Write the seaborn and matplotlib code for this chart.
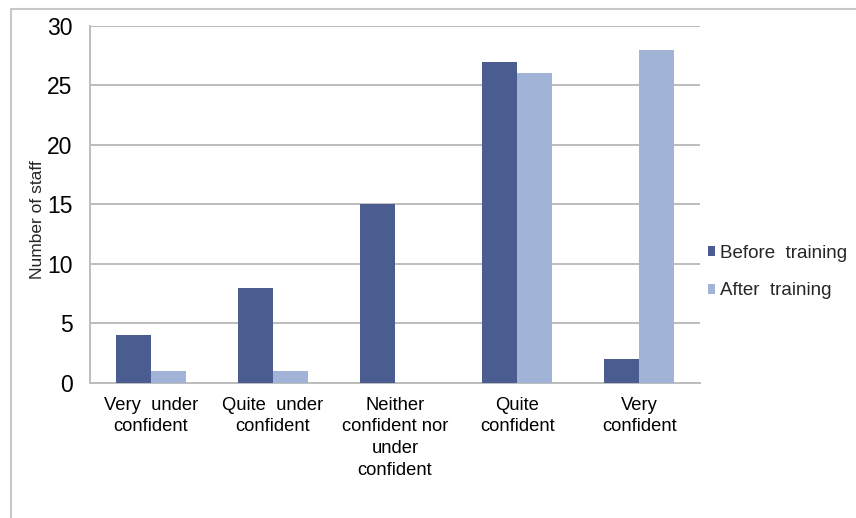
import pandas
import matplotlib.pyplot as pyplot
import seaborn
from matplotlib.patches import Rectangle

# data
categories = [
    "Very  under\nconfident",
    "Quite  under\nconfident",
    "Neither\nconfident nor\nunder\nconfident",
    "Quite\nconfident",
    "Very\nconfident",
]
before_training = [4, 8, 15, 27, 2]
after_training = [1, 1, 0, 26, 28]
series_names = ["Before  training", "After  training"]
y_ticks = [0, 5, 10, 15, 20, 25, 30]

df = pandas.DataFrame(
    {
        "Category": categories * 2,
        "Count": before_training + after_training,
        "Series": [series_names[0]] * len(categories) + [series_names[1]] * len(categories),
    }
)

# style
seaborn.set_style("white")
pyplot.rcParams["font.family"] = ["Liberation Sans", "DejaVu Sans"]

fig = pyplot.figure(figsize=(8.56, 5.18), dpi=100)
ax = fig.add_axes([0.105, 0.261, 0.713, 0.689])

seaborn.barplot(
    data=df,
    x="Category",
    y="Count",
    hue="Series",
    palette=["#4A5C90", "#A1B3D7"],
    width=0.57,
    saturation=1,
    linewidth=0,
    ax=ax,
    zorder=3,
)

ax.set_xlim(-0.5, len(categories) - 0.5)
ax.set_ylim(0, 30)
ax.set_yticks(y_ticks)
ax.set_yticklabels([str(t) for t in y_ticks], fontsize=16.5)
ax.yaxis.grid(True, color="#BDBDBD", linewidth=1.4, zorder=0)
ax.set_axisbelow(True)

# category boundary ticks on x axis
ax.set_xticks(range(len(categories)))
ax.set_xticklabels(categories, fontsize=13.2, linespacing=1.36)
ax.set_xticks([i - 0.5 for i in range(len(categories) + 1)], minor=True)
ax.tick_params(axis="x", which="major", length=0, pad=10)
ax.tick_params(axis="x", which="minor", length=5, width=1.2, direction="out")
ax.tick_params(axis="y", length=4.5, width=1.2, direction="out", pad=8)
ax.tick_params(axis="both", colors="#BDBDBD", labelcolor="black", which="both")

for side in ["top", "right"]:
    ax.spines[side].set_visible(False)
for side in ["left", "bottom"]:
    ax.spines[side].set_color("#BDBDBD")
    ax.spines[side].set_linewidth(1.4)

ax.set_xlabel("")
ax.set_ylabel("Number of staff", fontsize=12.5)
ax.yaxis.set_label_coords(-0.074, 0.457)

legend = ax.legend(
    loc="center left",
    bbox_to_anchor=(1.0, 0.31),
    frameon=False,
    fontsize=13.5,
    handlelength=0.4,
    handleheight=0.4,
    handletextpad=0.25,
    labelspacing=1.1,
    borderaxespad=0.0,
)

# outer border of the figure (only top and left visible)
fig.patches.append(
    Rectangle(
        (11 / 856, -0.1),
        1.2,
        1.1 - 9 / 518,
        transform=fig.transFigure,
        fill=False,
        edgecolor="#C8C8C8",
        linewidth=1.5,
    )
)

pyplot.savefig("out.png", dpi=100)
